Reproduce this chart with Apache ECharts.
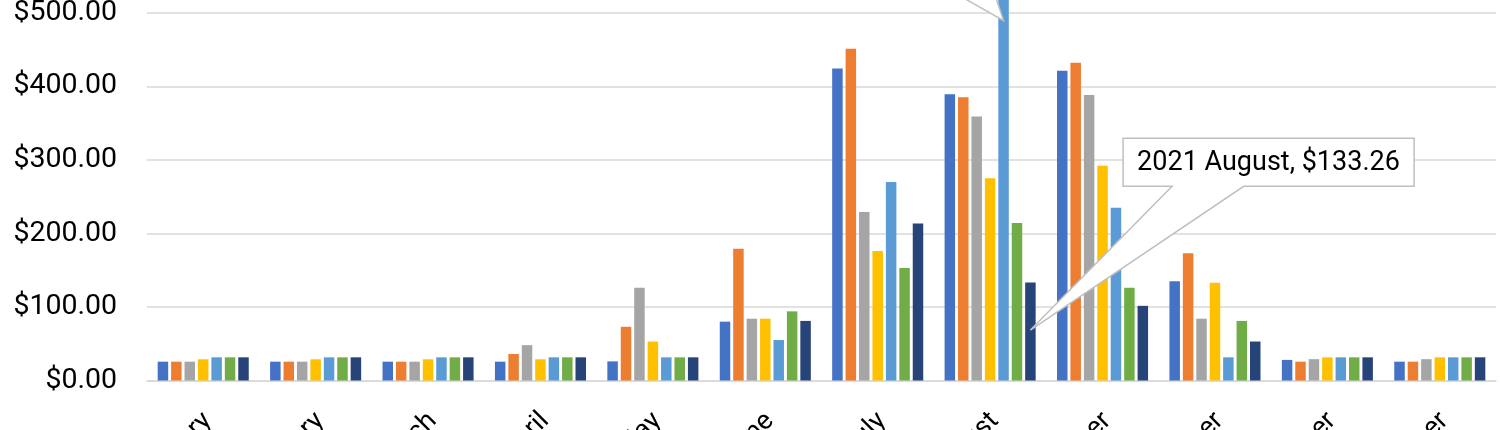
<!DOCTYPE html>
<html>
<head>
<meta charset="utf-8">
<script src="https://cdn.jsdelivr.net/npm/echarts@6/dist/echarts.min.js"></script>
<style>
  html, body { margin: 0; padding: 0; background: #fff; }
  #chart { width: 1500px; height: 430px; }
</style>
</head>
<body>
<div id="chart"></div>
<script>
// ---- data ----
const months = ['January', 'February', 'March', 'April', 'May', 'June', 'July', 'August', 'September', 'October', 'November', 'December'];
const seriesNames = ['2015', '2016', '2017', '2018', '2019', '2020', '2021'];
const s2015 = [25.6, 25.6, 25.6, 25.6, 26, 80, 424, 389, 421, 135, 28, 25.6];
const s2016 = [25.6, 25.6, 25.6, 36, 73, 179, 451, 385, 432, 173, 25.6, 25.6];
const s2017 = [25.6, 25.6, 25.6, 48, 126, 84, 229, 359, 388, 84, 29, 29];
const s2018 = [28.8, 28.8, 28.8, 28.8, 53, 84, 176, 275, 292, 133, 31.5, 31.5];
const s2019 = [31.5, 31.5, 31.5, 31.5, 31.5, 55, 270, 950, 235, 31.5, 31.5, 31.5];
const s2020 = [31.5, 31.5, 31.5, 31.5, 31.5, 94, 153, 214, 126, 81, 31.5, 31.5];
const s2021 = [31.5, 31.5, 31.5, 31.5, 31.5, 81, 213.6, 133.26, 101.5, 53, 31.5, 31.5];
const yTicks = [0, 100, 200, 300, 400, 500, 600, 700, 800, 900, 1000];
// callouts: which series / month they point to
const calloutSeries = [6, 4];
const calloutMonth = [7, 7];

const allSeries = [s2015, s2016, s2017, s2018, s2019, s2020, s2021];
const colors = ['#4472C4', '#ED7D31', '#A5A5A5', '#FFC000', '#5B9BD5', '#70AD47', '#264478'];
const FONT = 'Roboto, "Liberation Sans", sans-serif';

const chart = echarts.init(document.getElementById('chart'), null, { renderer: 'canvas' });

const option = {
  animation: false,
  backgroundColor: '#ffffff',
  color: colors,
  grid: { left: 147, right: 4, top: -355.1, bottom: 49.5, containLabel: false, outerBoundsMode: 'none' },
  xAxis: {
    type: 'category',
    data: months,
    axisTick: { show: false },
    axisLine: { show: true, lineStyle: { color: '#d9d9d9', width: 1.5 } },
    axisLabel: {
      interval: 0,
      rotate: 45,
      margin: 22,
      padding: [0, 7, 0, 0],
      fontFamily: FONT,
      fontSize: 27,
      color: '#000',
      verticalAlign: 'top'
    }
  },
  yAxis: {
    type: 'value',
    min: yTicks[0],
    max: yTicks[yTicks.length - 1],
    interval: yTicks[1] - yTicks[0],
    axisLine: { show: false },
    axisTick: { show: false },
    splitLine: { lineStyle: { color: '#d9d9d9', width: 1.5 } },
    axisLabel: {
      margin: 30,
      fontFamily: FONT,
      fontSize: 28.5,
      color: '#000',
      formatter: v => '$' + v.toLocaleString('en-US', { minimumFractionDigits: 2, maximumFractionDigits: 2 })
    }
  },
  series: seriesNames.map((n, i) => ({
    name: n,
    type: 'bar',
    data: allSeries[i],
    barGap: '28%',
    barCategoryGap: '19%',
    itemStyle: { color: colors[i] }
  }))
};
chart.setOption(option);

// ---- callouts built from the bars' own layout ----
function buildCallouts() {
  const model = chart.getModel();
  const els = [];
  calloutSeries.forEach((si, k) => {
    const mi = calloutMonth[k];
    const lay = model.getSeriesByIndex(si).getData().getItemLayout(mi);
    const tipX = lay.x + lay.width / 2;
    const tipY = lay.y + lay.height * 0.515;
    const val = allSeries[si][mi];
    const text = seriesNames[si] + ' ' + months[mi] + ', $' + val.toFixed(2);
    let L, B, b1, b2;
    const W = 291, H = 48;
    if (k === 0) {
      L = tipX + 92.7; B = tipY - 143.7; b1 = L + 49; b2 = L + 120.6;
    } else {
      B = tipY - 61; b1 = tipX - 107.5; b2 = tipX - 20.3; L = b1 - 49;
    }
    const T = B - H, R = L + W;
    els.push({
      type: 'polygon', z: 100,
      shape: { points: [[L, T], [R, T], [R, B], [b2, B], [tipX, tipY], [b1, B], [L, B]] },
      style: { fill: '#ffffff', stroke: '#bfbfbf', lineWidth: 1.5 }
    });
    els.push({
      type: 'text', z: 101,
      x: L + 14, y: (T + B) / 2 + 1,
      style: { text: text, fill: '#000', font: '27px ' + FONT, textVerticalAlign: 'middle', verticalAlign: 'middle' }
    });
  });
  chart.setOption({ graphic: els });
}
buildCallouts();
</script>
</body>
</html>
